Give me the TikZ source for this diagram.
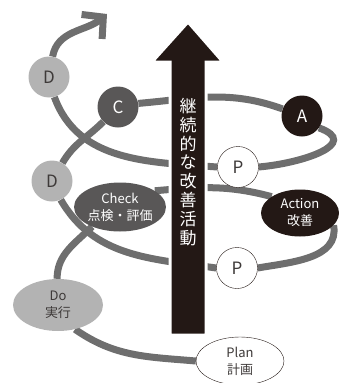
\documentclass[tikz,border=0pt]{standalone}
\usepackage{fontspec}
\setmainfont{Noto Sans CJK JP}
\usetikzlibrary{arrows.meta,shapes.geometric,backgrounds}

\definecolor{spor}{HTML}{6E6E6E}
\definecolor{lys}{HTML}{B3B3B3}
\definecolor{mork}{HTML}{595757}
\definecolor{svart}{HTML}{231815}
\definecolor{skrift}{HTML}{3E3A39}

\begin{document}
\begin{tikzpicture}[x=1pt,y=-1pt,
  bane/.style={draw=spor,line width=7pt},
  bokstav/.style={circle,minimum size=41pt,inner sep=0pt,font=\fontsize{17}{17}\selectfont},
  fase/.style={ellipse,minimum width=90pt,minimum height=49pt,inner sep=0pt,align=center,font=\fontsize{13}{17}\selectfont}]
\useasboundingbox (0,0) rectangle (338,383);
% tegn pil
\filldraw[fill=svart,draw=white,line width=3pt] (170,335) -- (170,62) -- (152,62) -- (188,22) -- (223,62) -- (206,62) -- (206,335) -- cycle;
\node[text=white,align=center,font=\fontsize{17}{18.9}\selectfont] (tekst) at (188,172) {継\\続\\的\\な\\改\\善\\活\\動};
% tegn sirkler og ellipser
\node[bokstav,fill=lys,text=skrift] (dtop) at (49,77) {D};
\node[bokstav,fill=mork,text=white] (c) at (118,107) {C};
\node[bokstav,fill=svart,text=white] (a) at (302,116) {A};
\node[bokstav,fill=white,draw=svart,text=skrift] (pu) at (238,167) {P};
\node[bokstav,fill=lys,text=skrift] (dlow) at (52,181) {D};
\node[bokstav,fill=white,draw=svart,text=skrift] (pl) at (237,268) {P};
\node[fase,fill=mork,text=white] (check) at (120,207) {Check\\点検・評価};
\node[fase,fill=svart,text=white,minimum width=78pt,minimum height=47pt] (action) at (300,213) {Action\\改善};
\node[fase,fill=lys,text=skrift,minimum height=52pt] (do) at (58,305) {Do\\実行};
\node[fase,fill=white,draw=svart,text=skrift,minimum width=88pt,minimum height=48pt] (plan) at (240,361) {Plan\\計画};
\coordinate (slutt) at (107,14);
% tegn spiral
\begin{pgfonlayer}{background}
\draw[bane] (plan.180) to[out=175,in=-35] (do.-55);
\draw[bane] (do.92) to[out=90,in=225] (check.215);
\draw[bane] (check.25) to[out=5,in=165] (action.150);
\draw[bane] (action.-20) to[out=-80,in=10] (pl.0);
\draw[bane] (pl.180) to[out=172,in=-60] (dlow.-65);
\draw[bane] (dlow.60) to[out=60,in=225] (c.225);
\draw[bane] (c.10) to[out=5,in=160] (a.160);
\draw[bane] (a.-35) to[out=-20,in=5,looseness=1.6] (pu.0);
\draw[bane] (pu.180) to[out=176,in=-70] (dtop.-75);
\draw[bane,-{Straight Barb[length=15pt,width=32pt,line width=7pt,sharp]}] (dtop.80) to[out=80,in=220] (slutt);
\end{pgfonlayer}
\end{tikzpicture}
\end{document}
